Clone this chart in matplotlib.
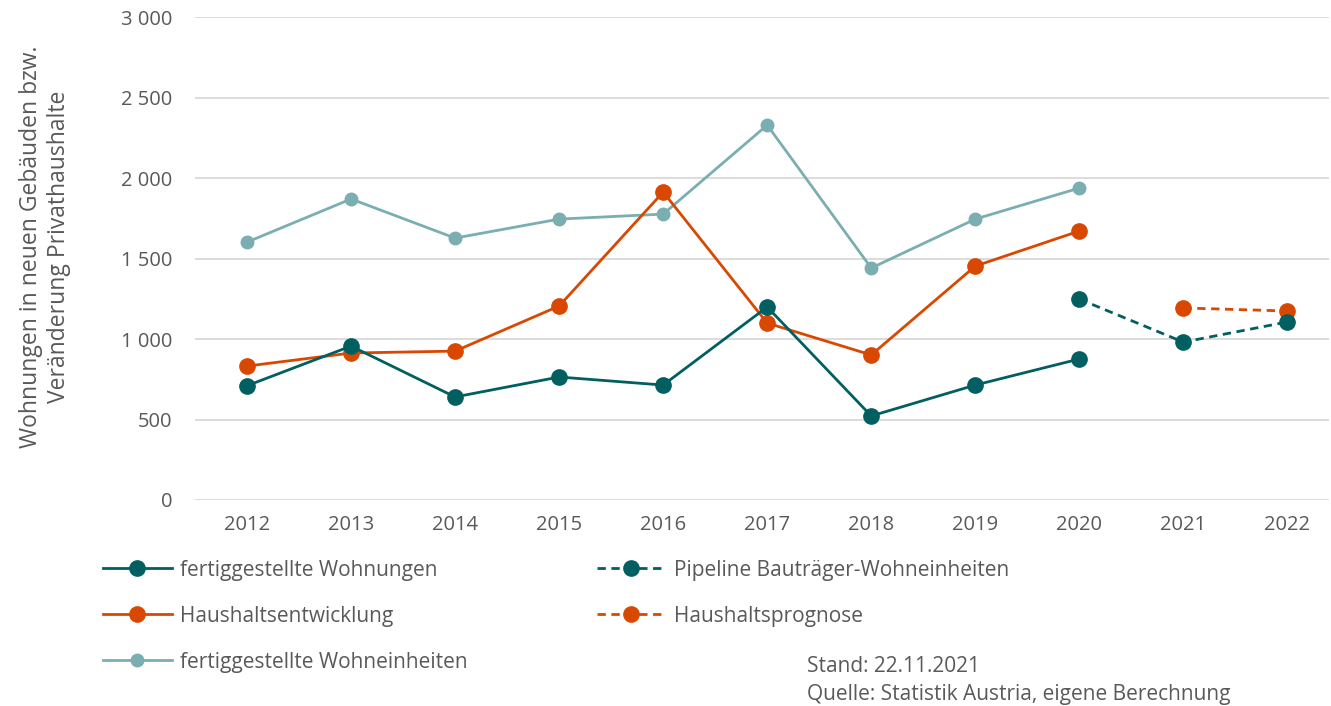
import matplotlib.pyplot as plt
import numpy as np

plt.rcParams['font.family'] = ['Open Sans', 'DejaVu Sans']

years = ['2012', '2013', '2014', '2015', '2016', '2017', '2018', '2019', '2020', '2021', '2022']
fertig_wohnungen = [710, 956, 640, 764, 714, 1199, 522, 714, 876]
pipeline = [1248, 981, 1106]
haushalt = [832, 913, 925, 1205, 1913, 1099, 901, 1453, 1671]
prognose = [1193, 1174]
fertig_einheiten = [1602, 1870, 1627, 1745, 1776, 2329, 1441, 1745, 1938]

dark = '#015f62'
orange = '#d94800'
light = '#7aaeb0'
grey = '#595959'

x = np.arange(len(years))

fig = plt.figure(figsize=(13.31, 7.06), dpi=100)
ax = fig.add_axes([0.1465, 0.2918, 0.852, 0.684])

l1, = ax.plot(x[:9], fertig_wohnungen, color=dark, lw=2, marker='o', ms=11, zorder=4)
l4, = ax.plot(x[8:], pipeline, color=dark, lw=2, ls=(0, (3, 2)), marker='o', ms=11, zorder=4)
l2, = ax.plot(x[:9], haushalt, color=orange, lw=2, marker='o', ms=11, zorder=3)
l5, = ax.plot(x[9:], prognose, color=orange, lw=2, ls=(0, (3, 2)), marker='o', ms=11, zorder=3)
l3, = ax.plot(x[:9], fertig_einheiten, color=light, lw=2, marker='o', ms=9, zorder=2)

ax.set_xlim(-0.5, 10.4)
ax.set_ylim(0, 3000)
ax.set_yticks(range(0, 3001, 500))
ax.set_yticklabels([f'{v:,}'.replace(',', ' ') if v >= 1000 else str(v)
                    for v in range(0, 3001, 500)])
ax.set_xticks(x)
ax.set_xticklabels(years)
ax.grid(axis='y', color='#d9d9d9', lw=1.3)
ax.set_axisbelow(True)
for s in ax.spines.values():
    s.set_visible(False)
ax.tick_params(length=0, labelsize=14.5, colors=grey, pad=11)
ax.tick_params(axis='y', pad=16.5)

fig.text(0.034, 0.65, 'Wohnungen in neuen Gebäuden bzw.\nVeränderung Privathaushalte',
         rotation=90, ha='center', va='center', fontsize=16.5, color=grey, linespacing=1.2)

leg = fig.legend([l1, l2, l3, l4, l5],
                 ['fertiggestellte Wohnungen', 'Haushaltsentwicklung', 'fertiggestellte Wohneinheiten',
                  'Pipeline Bauträger-Wohneinheiten', 'Haushaltsprognose'],
                 ncol=2, loc='upper left', bbox_to_anchor=(0.0774, 0.2075), frameon=False,
                 fontsize=15, labelcolor=grey, handlelength=3.3, handletextpad=0.4,
                 columnspacing=6.2, labelspacing=1.2, borderpad=0, borderaxespad=0)

fig.text(0.606, 0.036, 'Stand: 22.11.2021\nQuelle: Statistik Austria, eigene Berechnung',
         ha='left', va='center', fontsize=15, color=grey, linespacing=1.45)

fig.savefig('out.png', dpi=100)
